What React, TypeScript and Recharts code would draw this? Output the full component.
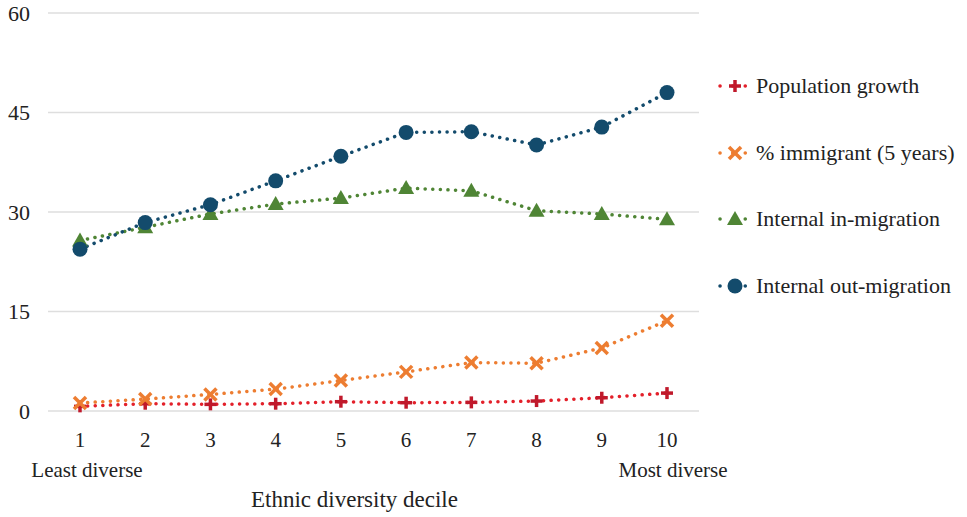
import { CartesianGrid, Label, Line, LineChart, XAxis, YAxis } from 'recharts'

const deciles = ['1', '2', '3', '4', '5', '6', '7', '8', '9', '10']
const populationGrowth = [0.7, 1.1, 1.0, 1.1, 1.4, 1.25, 1.3, 1.5, 2.0, 2.7]
const immigrant = [1.2, 1.8, 2.5, 3.3, 4.6, 5.9, 7.3, 7.2, 9.5, 13.6]
const inMigration = [25.7, 27.7, 29.7, 31.2, 32.1, 33.6, 33.2, 30.2, 29.7, 28.9]
const outMigration = [24.4, 28.4, 31.1, 34.7, 38.4, 42.0, 42.1, 40.1, 42.8, 48.0]
const yTicks = [0, 15, 30, 45, 60]

const FONT = 'Liberation Serif, DejaVu Serif, serif'

type Shape = 'plus' | 'cross' | 'triangle' | 'circle'

const series: { key: string; name: string; line: string; mark: string; shape: Shape }[] = [
  { key: 'pop', name: 'Population growth', line: '#e3202a', mark: '#c0192b', shape: 'plus' },
  { key: 'imm', name: '% immigrant (5 years)', line: '#ed7d31', mark: '#ed7d31', shape: 'cross' },
  { key: 'inm', name: 'Internal in-migration', line: '#4f8535', mark: '#4f8535', shape: 'triangle' },
  { key: 'out', name: 'Internal out-migration', line: '#134b6c', mark: '#134b6c', shape: 'circle' },
]

const data = deciles.map((d, i) => ({
  decile: d,
  pop: populationGrowth[i],
  imm: immigrant[i],
  inm: inMigration[i],
  out: outMigration[i],
}))

function marker(shape: Shape, cx: number, cy: number, color: string) {
  if (shape === 'plus') {
    return (
      <g>
        <line x1={cx - 6} y1={cy} x2={cx + 6} y2={cy} stroke={color} strokeWidth={3.5} />
        <line x1={cx} y1={cy - 6} x2={cx} y2={cy + 6} stroke={color} strokeWidth={3.5} />
      </g>
    )
  }
  if (shape === 'cross') {
    return (
      <g>
        <line x1={cx - 6} y1={cy - 6} x2={cx + 6} y2={cy + 6} stroke={color} strokeWidth={3.5} />
        <line x1={cx - 6} y1={cy + 6} x2={cx + 6} y2={cy - 6} stroke={color} strokeWidth={3.5} />
      </g>
    )
  }
  if (shape === 'triangle') {
    return <polygon points={`${cx},${cy - 8} ${cx + 8},${cy + 6} ${cx - 8},${cy + 6}`} fill={color} />
  }
  return <circle cx={cx} cy={cy} r={7.5} fill={color} />
}

function XTick(props: any) {
  const { x, y, payload, index } = props
  const last = index === deciles.length - 1
  return (
    <g>
      <text x={x} y={y} dy={16} textAnchor="middle" fontSize={21} fontFamily={FONT} fill="#222">
        {payload.value}
      </text>
      {index === 0 && (
        <text x={x + 7} y={y} dy={46} textAnchor="middle" fontSize={21} fontFamily={FONT} fill="#222">
          Least diverse
        </text>
      )}
      {last && (
        <text x={x + 6} y={y} dy={46} textAnchor="middle" fontSize={21} fontFamily={FONT} fill="#222">
          Most diverse
        </text>
      )}
    </g>
  )
}

function LegendBox() {
  return (
    <div style={{ position: 'absolute', left: 716, top: 53, fontFamily: FONT, fontSize: 22, color: '#222' }}>
      {series.map((s) => (
        <div key={s.key} style={{ display: 'flex', alignItems: 'center', height: 66.5 }}>
          <svg width={38} height={20} style={{ marginRight: 2 }}>
            <line
              x1={4}
              y1={10}
              x2={34}
              y2={10}
              stroke={s.line}
              strokeWidth={3.5}
              strokeDasharray="0.1 12.5"
              strokeLinecap="round"
            />
            {marker(s.shape, 19, 10, s.mark)}
          </svg>
          <span>{s.name}</span>
        </div>
      ))}
    </div>
  )
}

export default function App() {
  return (
    <div style={{ position: 'absolute', left: 0, top: 0, width: 967, height: 517 }}>
      <LineChart width={967} height={517} data={data} margin={{ top: 13, right: 268, left: 0, bottom: 76 }}>
        <CartesianGrid vertical={false} stroke="#dedede" strokeWidth={1.5} />
        <XAxis
          dataKey="decile"
          height={30}
          axisLine={false}
          tickLine={false}
          tickSize={0}
          tickMargin={20}
          padding={{ left: 32, right: 32 }}
          interval={0}
          tick={<XTick />}
        >
          <Label
            value="Ethnic diversity decile"
            position="insideBottom"
            offset={-66}
            dx={-19}
            style={{ fontFamily: FONT, fontSize: 23, fill: '#222' }}
          />
        </XAxis>
        <YAxis
          width={48}
          domain={[0, 60]}
          ticks={yTicks}
          axisLine={false}
          tickLine={false}
          tickSize={0}
          tickMargin={18}
          tick={{ fontSize: 22, fontFamily: FONT, fill: '#222' }}
        />
        {series.map((s) => (
          <Line
            key={s.key}
            dataKey={s.key}
            name={s.name}
            type="linear"
            stroke={s.line}
            strokeWidth={3.5}
            strokeDasharray="0.1 7.5"
            strokeLinecap="round"
            isAnimationActive={false}
            dot={(p: any) => <g key={`${s.key}-${p.index}`}>{marker(s.shape, p.cx, p.cy, s.mark)}</g>}
            activeDot={false}
          />
        ))}
      </LineChart>
      <LegendBox />
    </div>
  )
}
